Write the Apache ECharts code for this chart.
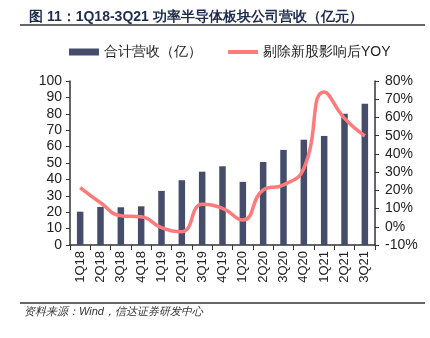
<!DOCTYPE html>
<html><head><meta charset="utf-8">
<script src="https://cdn.jsdelivr.net/npm/echarts@6/dist/echarts.min.js"></script>
<style>html,body{margin:0;padding:0;background:#fff;}#c{width:430px;height:338px;}</style>
</head><body><div id="c"></div>
<script>
const categories = ['1Q18','2Q18','3Q18','4Q18','1Q19','2Q19','3Q19','4Q19','1Q20','2Q20','3Q20','4Q20','1Q21','2Q21','3Q21'];
const revenue = [20.3, 23.2, 23, 23.6, 33, 39.5, 44.7, 48, 38.5, 50.6, 58, 64.2, 66.5, 80, 86.2];
const yoy = [21.5, 13.2, 6.1, 5.5, -0.5, -2.7, 12.3, 10.1, 3.7, 20.2, 23, 32, 74, 59.5, 49.8];
const leftTicks = {min: 0, max: 100, interval: 10};
const rightTicks = {min: -10, max: 80, interval: 10};

const chart = echarts.init(document.getElementById('c'));
const font = 'Liberation Sans, Arial, sans-serif';
chart.setOption({
  animation: false,
  textStyle: {fontFamily: font},
  title: {
    text: '图 11：1Q18-3Q21 功率半导体板块公司营收（亿元）',
    left: 24, top: 5,
    textStyle: {fontSize: 14, fontWeight: 'bold', color: '#1f2d4d', fontFamily: font}
  },
  graphic: [
    {type: 'line', shape: {x1: 20, y1: 25, x2: 425, y2: 25}, style: {stroke: '#333', lineWidth: 1.5}},
    {type: 'line', shape: {x1: 20, y1: 303, x2: 425, y2: 303}, style: {stroke: '#333', lineWidth: 1.5}},
    {type: 'text', left: 24, top: 306, style: {text: '资料来源：Wind，信达证券研发中心', font: 'italic 11px ' + font, fill: '#333'}}
  ],
  legend: {
    left: 64, top: 40, itemGap: 26, itemWidth: 30, itemHeight: 7,
    textStyle: {fontSize: 14, color: '#222', fontFamily: font},
    data: [
      {name: '合计营收（亿）', icon: 'rect'},
      {name: '剔除新股影响后YOY', icon: 'path://M0,0 L30,0 L30,4 L0,4 Z'}
    ]
  },
  grid: {left: 70, right: 55, top: 81, bottom: 93},
  xAxis: {
    type: 'category', data: categories, boundaryGap: true,
    axisLine: {lineStyle: {color: '#333', width: 1.5}},
    axisTick: {show: true, length: 5, lineStyle: {color: '#333'}},
    axisLabel: {rotate: 90, fontSize: 13, color: '#222', margin: 6, fontFamily: font}
  },
  yAxis: [
    {type: 'value', min: leftTicks.min, max: leftTicks.max, interval: leftTicks.interval,
      axisLine: {show: true, lineStyle: {color: '#333', width: 1.5}},
      axisTick: {show: true, length: 4, lineStyle: {color: '#333'}},
      splitLine: {show: false},
      axisLabel: {fontSize: 14, color: '#222', margin: 8, fontFamily: font}},
    {type: 'value', min: rightTicks.min, max: rightTicks.max, interval: rightTicks.interval,
      axisLine: {show: true, lineStyle: {color: '#333', width: 1.5}},
      axisTick: {show: true, length: 4, lineStyle: {color: '#333'}},
      splitLine: {show: false},
      axisLabel: {fontSize: 14, color: '#222', margin: 10, formatter: '{value}%', fontFamily: font}}
  ],
  series: [
    {name: '合计营收（亿）', type: 'bar', data: revenue, barWidth: 6.5, yAxisIndex: 0,
      itemStyle: {color: '#454d6b'}},
    {name: '剔除新股影响后YOY', type: 'line', data: yoy, yAxisIndex: 1, smooth: 0.5,
      symbol: 'none', lineStyle: {color: '#ff7b7b', width: 3.5}, itemStyle: {color: '#ff7b7b'}}
  ]
});
</script></body></html>
